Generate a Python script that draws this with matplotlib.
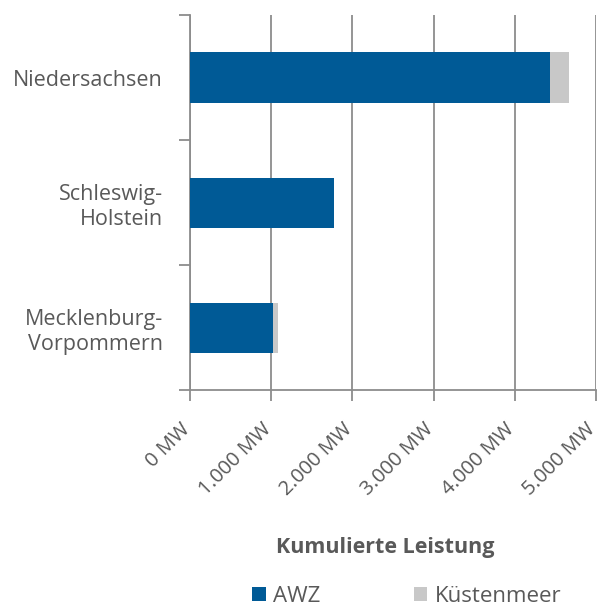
import numpy as np
import matplotlib.pyplot as plt
import matplotlib.transforms as mtransforms
from matplotlib.ticker import FixedLocator, FuncFormatter

plt.rcParams['font.family'] = ['Open Sans', 'DejaVu Sans']

# data (MW)
regions = ['Mecklenburg-\nVorpommern', 'Schleswig-\nHolstein', 'Niedersachsen']
awz = [1027, 1777, 4434]
kuestenmeer = [53, 0, 234]

blue = '#005A96'
grey = '#C8C8C8'
text_col = '#595959'
line_col = '#8C8C8C'

fig = plt.figure(figsize=(6.01, 6.08), dpi=100)
ax = fig.add_axes([190 / 601, 1 - 390 / 608, 406 / 601, 375 / 608])

y = np.arange(len(regions))
ax.barh(y, awz, height=0.4, color=blue, label='AWZ', zorder=3)
ax.barh(y, kuestenmeer, left=awz, height=0.4, color=grey, label='Küstenmeer', zorder=3)

ax.set_xlim(0, 5000)
ax.set_ylim(-0.5, 2.5)

# x axis
ax.set_xticks(np.arange(0, 5001, 1000))
ax.xaxis.set_major_formatter(FuncFormatter(lambda v, p: f'{int(v):,} MW'.replace(',', '.')))
ax.grid(axis='x', color=line_col, linewidth=1.3, zorder=0)
ax.tick_params(axis='x', direction='out', length=8, width=1.3, color=line_col,
               labelsize=14.5, labelcolor=text_col, pad=13)
shift = mtransforms.ScaledTranslation(4 / 100, 0, fig.dpi_scale_trans)
for lbl in ax.get_xticklabels():
    lbl.set_rotation(45)
    lbl.set_ha('right')
    lbl.set_va('top')
    lbl.set_transform(lbl.get_transform() + shift)

# y axis: labels centred, tick marks at category boundaries
ax.set_yticks(y)
ax.set_yticklabels(regions, ha='right', multialignment='right', linespacing=1.25)
ax.yaxis.set_minor_locator(FixedLocator([-0.5, 0.5, 1.5, 2.5]))
ax.tick_params(axis='y', which='major', length=0, labelsize=15.5, labelcolor=text_col, pad=19.5)
ax.tick_params(axis='y', which='minor', length=8, width=1.3, color=line_col)

for s in ['top', 'right']:
    ax.spines[s].set_visible(False)
for s in ['left', 'bottom']:
    ax.spines[s].set_color(line_col)
    ax.spines[s].set_linewidth(1.3)

fig.text(385 / 601, 1 - 548 / 608, 'Kumulierte Leistung', ha='center', va='center',
         fontsize=15.5, fontweight='bold', color=text_col)

leg = fig.legend(loc='center', bbox_to_anchor=(407 / 601, 1 - 596 / 608), ncol=2,
                 frameon=False, fontsize=16, handlelength=0.6, handleheight=0.6,
                 handletextpad=0.35, columnspacing=4.2)
for t in leg.get_texts():
    t.set_color(text_col)

fig.savefig('out.png', dpi=100)
